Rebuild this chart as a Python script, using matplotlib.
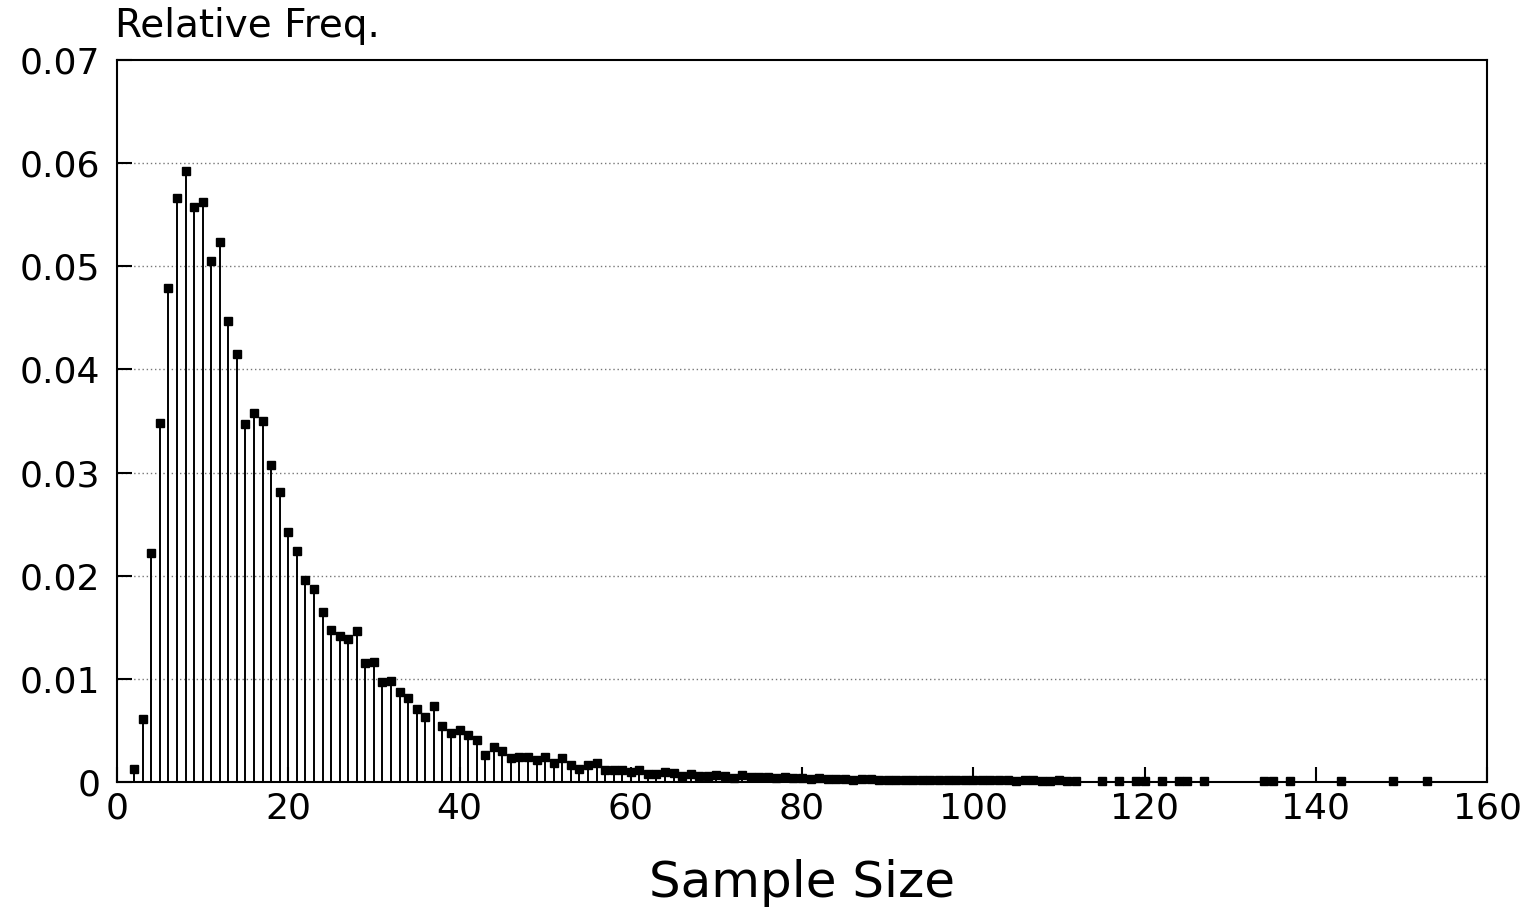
import matplotlib
matplotlib.use("Agg")
import matplotlib.pyplot as plt

# sample sizes with counts
size_head = list(range(2, 65))
freq_head = [0.0013, 0.0061, 0.0222, 0.0348, 0.0479, 0.0566, 0.0592, 0.0558, 0.0562, 0.0505,
             0.0524, 0.0447, 0.0415, 0.0347, 0.0358, 0.0350, 0.0307, 0.0281, 0.0242, 0.0224,
             0.0196, 0.0187, 0.0165, 0.0147, 0.0142, 0.0139, 0.0146, 0.0115, 0.0116, 0.0097,
             0.0098, 0.0087, 0.0081, 0.0071, 0.0063, 0.0074, 0.0054, 0.0047, 0.0050, 0.0046,
             0.0041, 0.0026, 0.0034, 0.0030, 0.0023, 0.0024, 0.0024, 0.0021, 0.0024, 0.0018,
             0.0023, 0.0016, 0.0013, 0.0016, 0.0018, 0.0012, 0.0012, 0.0012, 0.0010, 0.0012,
             0.0008, 0.0008, 0.0010]
size_mid = list(range(65, 113))
freq_mid = [0.0009, 0.0006, 0.0008, 0.0006, 0.0006, 0.0007, 0.0006, 0.0004, 0.0007, 0.0005,
            0.0005, 0.0005, 0.0004, 0.0005, 0.0004, 0.0004, 0.0003, 0.0004, 0.0003, 0.0003,
            0.0003, 0.0002, 0.0003, 0.0003, 0.0002, 0.0002, 0.0002, 0.0002, 0.0002, 0.0002,
            0.0002, 0.0002, 0.0002, 0.0002, 0.0002, 0.0002, 0.0002, 0.0002, 0.0002, 0.0002,
            0.0001, 0.0002, 0.0002, 0.0001, 0.0001, 0.0002, 0.0001, 0.0001]
size_tail = [115, 117, 119, 120, 122, 124, 125, 127, 134, 135, 137, 143, 149, 153]
freq_tail = [0.0001, 0.0001, 0.0001, 0.0001, 0.0001, 0.0001, 0.0001, 0.0001,
             0.0001, 0.0001, 0.0001, 0.0001, 0.0001, 0.0001]

sizes = size_head + size_mid + size_tail
freqs = freq_head + freq_mid + freq_tail

yticks = [0, 0.01, 0.02, 0.03, 0.04, 0.05, 0.06, 0.07]
ylabels = ["0", "0.01", "0.02", "0.03", "0.04", "0.05", "0.06", "0.07"]
xticks = [0, 20, 40, 60, 80, 100, 120, 140, 160]

plt.rcParams["font.family"] = ["DejaVu Sans"]

fig = plt.figure(figsize=(15.28, 9.10), dpi=100)
ax = fig.add_axes([0.0766, 0.1407, 0.8966, 0.7933])

for yv in yticks[1:-1]:
    ax.axhline(yv, color="#777777", linestyle=(0, (1, 2)), linewidth=1.0, zorder=1)

ax.vlines(sizes, 0, freqs, color="black", linewidth=1.4, zorder=2)
ax.plot(sizes, freqs, "s", color="black", markersize=6, zorder=3, clip_on=False)

ax.set_xlim(0, 160)
ax.set_ylim(0, 0.07)
ax.set_xticks(xticks)
ax.set_yticks(yticks)
ax.set_yticklabels(ylabels)
ax.tick_params(direction="in", length=11, width=1.5, labelsize=26)
ax.tick_params(axis="y", pad=12)
ax.tick_params(axis="x", pad=7)
for s in ax.spines.values():
    s.set_linewidth(1.5)

fig.text(0.5249, 0.0143, "Sample Size", fontsize=36, ha="center", va="baseline")
fig.text(0.0753, 0.959, "Relative Freq.", fontsize=28, ha="left", va="baseline")

fig.savefig("out.png", dpi=100)
